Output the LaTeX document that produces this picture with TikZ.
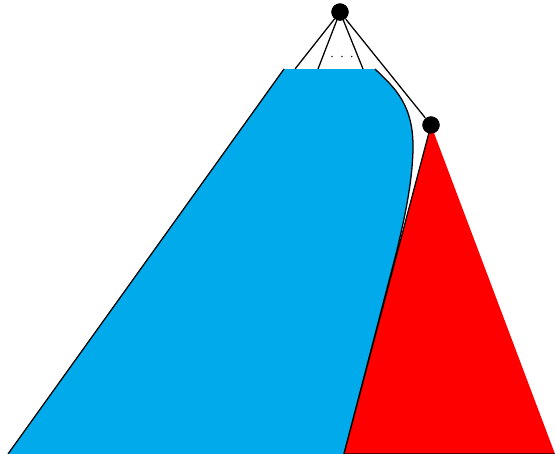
\documentclass[tikz,border=0pt]{standalone}
\usepackage{tikz}
\usetikzlibrary{calc}
\definecolor{subblue}{RGB}{0,170,235}
\definecolor{subred}{RGB}{255,0,0}
\begin{document}
\begin{tikzpicture}[x=0.025cm, y=-0.025cm, line width=0.9pt,
		vertex/.style={circle, fill=black, inner sep=0pt, minimum size=0.43cm}]
		\useasboundingbox (0,0) rectangle (555,454);
		\node[vertex] (root) at (340,12) {};
		\node[vertex] (child) at (431,125) {};
		\coordinate (tl) at (284,69);
		\coordinate (tr) at (375,69);
		\coordinate (bl) at (8,454);
		\coordinate (bm) at (344,454);
		\coordinate (br) at (555,454);
		% blue subtree, top edge left open
		\fill[subblue] (tl) -- (bl) -- (bm) -- (397,250)
			.. controls (401,232) and (412,190) .. (413,150)
			.. controls (414,105) and (395,88) .. (tr) -- cycle;
		\draw (tl) -- (bl);
		\draw (bm) -- (397,250)
			.. controls (401,232) and (412,190) .. (413,150)
			.. controls (414,105) and (395,88) .. (tr);
		% red subtree
		\draw[fill=subred] (child.center) -- (bm) -- (br);
		% edges from the root
		\coordinate (e1) at (295,69);
		\coordinate (e2) at (318,69);
		\coordinate (e3) at (363,69);
		\draw (root.center) -- (e1);
		\draw (root.center) -- (e2);
		\draw (root.center) -- (e3);
		\draw (root) -- (child);
		\node[inner sep=0pt] (dots) at (342,57) {$\cdot$\hspace{4.2pt}$\cdot$\hspace{4.2pt}$\cdot$};
		\node[vertex] at (root) {};
		\node[vertex] at (child) {};
	\end{tikzpicture}
\end{document}
